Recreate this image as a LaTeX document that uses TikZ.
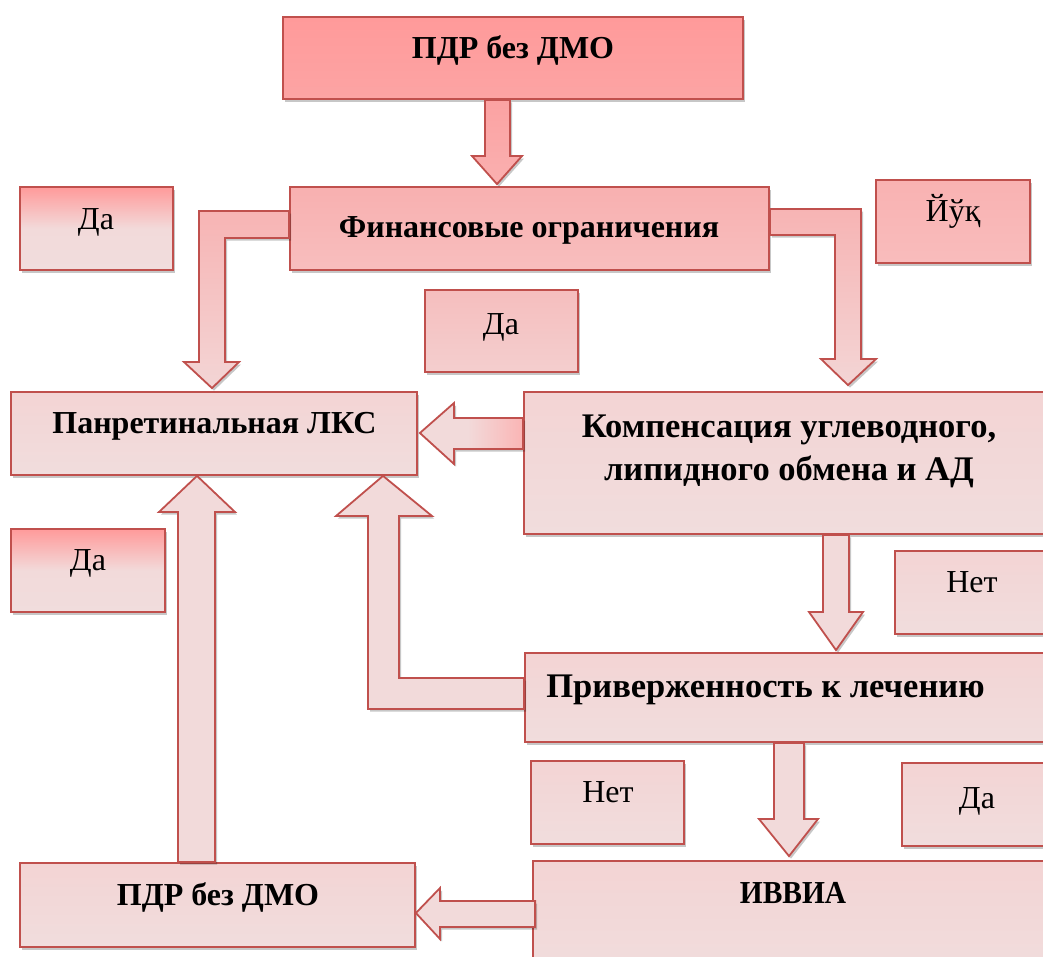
\documentclass[tikz,border=0pt]{standalone}
\usepackage{fontspec}
\setmainfont{Liberation Serif}
\usetikzlibrary{calc,shadows}
\definecolor{bord}{RGB}{192,80,77}
\definecolor{lt}{RGB}{242,218,218}
\definecolor{ltB}{RGB}{241,221,221}
\definecolor{ltT}{RGB}{243,212,212}
\definecolor{red1}{RGB}{255,154,154}
\definecolor{red2}{RGB}{252,164,164}
\definecolor{fin1}{RGB}{248,176,176}
\definecolor{fin2}{RGB}{248,190,190}
\definecolor{yuk1}{RGB}{249,178,178}
\definecolor{yuk2}{RGB}{249,188,188}
\definecolor{mid1}{RGB}{245,190,190}
\definecolor{mid2}{RGB}{244,206,206}
\definecolor{arA1}{RGB}{251,162,162}
\definecolor{arA2}{RGB}{250,176,176}
\definecolor{el1}{RGB}{247,180,180}
\definecolor{el2}{RGB}{243,213,213}
\definecolor{rdD}{RGB}{255,160,160}
\definecolor{rdE}{RGB}{250,175,175}
\pgfdeclarehorizontalshading{arrD}{100bp}{color(0bp)=(lt); color(48bp)=(lt); color(90bp)=(rdD); color(100bp)=(rdE)}
\tikzset{
  shd/.style={drop shadow={shadow xshift=2pt, shadow yshift=-2.5pt, fill=black, opacity=0.22}},
  box/.style={rectangle, draw=bord, line width=1.8pt, inner sep=0pt, shd},
  lbox/.style={box, top color=ltT, bottom color=ltB},
  blk/.style={draw=bord, line width=1.8pt, line join=miter, shd},
  bt/.style={font=\fontsize{32}{38}\selectfont\bfseries, anchor=base, inner sep=0pt},
  btl/.style={font=\fontsize{34.5}{40}\selectfont\bfseries, anchor=base, inner sep=0pt},
  rt/.style={font=\fontsize{32}{38}\selectfont, anchor=base, inner sep=0pt},
}
\begin{document}
\begin{tikzpicture}[x=1pt,y=-1pt]
\clip (0,0) rectangle (1043,956);
% boxes
\node[box, minimum width=460pt, minimum height=82pt, top color=red1, bottom color=red2] (top) at (513,58) {};
\node[box, minimum width=479pt, minimum height=83pt, top color=fin1, bottom color=fin2] (fin) at (529.5,228.5) {};
\node[box, minimum width=153pt, minimum height=83pt, top color=red1, bottom color=ltB, middle color=lt] (da1) at (96.5,228.5) {};
\node[box, minimum width=154pt, minimum height=83pt, top color=yuk1, bottom color=yuk2] (yuk) at (953,221.5) {};
\node[box, minimum width=153pt, minimum height=82pt, top color=mid1, bottom color=mid2] (da2) at (501.5,331) {};
\node[lbox, minimum width=406pt, minimum height=83pt] (pan) at (214,433.5) {};
\node[lbox, minimum width=531pt, minimum height=142pt] (komp) at (789.5,463) {};
\node[box, minimum width=154pt, minimum height=83pt, top color=red1, bottom color=ltB, middle color=lt] (da3) at (88,570.5) {};
\node[lbox, minimum width=155pt, minimum height=83pt] (net1) at (972.5,592.5) {};
\node[lbox, minimum width=530pt, minimum height=89pt] (priv) at (790,697.5) {};
\node[lbox, minimum width=153pt, minimum height=83pt] (net2) at (607.5,802.5) {};
\node[lbox, minimum width=153pt, minimum height=83pt] (da4) at (978.5,804.5) {};
\node[lbox, minimum width=395pt, minimum height=84pt] (pdr2) at (217.5,905) {};
\node[lbox, minimum width=520pt, minimum height=114pt] (ivvia) at (793,918) {};
% texts
\node[bt] (t-top) at (513,58) {ПДР без ДМО};
\node[bt] (t-fin) at (529,237) {Финансовые ограничения};
\node[rt] (t-da1) at (96,229) {Да};
\node[rt] (t-yuk) at (953,221) {Йўқ};
\node[rt] (t-da2) at (501,334) {Да};
\node[bt] (t-pan) at (214.5,433) {Панретинальная ЛКС};
\node[btl] (t-komp1) at (789,437) {Компенсация углеводного,};
\node[btl] (t-komp2) at (789,480) {липидного обмена и АД};
\node[rt] (t-da3) at (88,570) {Да};
\node[rt] (t-net1) at (972,592) {Нет};
\node[btl] (t-priv) at (765.5,697) {Приверженность к лечению};
\node[rt] (t-net2) at (608,802) {Нет};
\node[rt] (t-da4) at (977,808) {Да};
\node[bt] (t-pdr2) at (218,905) {ПДР без ДМО};
\node[bt] (t-ivvia) at (793,903) {\scalebox{0.92}[1]{ИВВИА}};
% block arrows
% A: top -> fin
\draw[blk, top color=arA1, bottom color=arA2]
  (top.south -| 485,0) -- (top.south -| 510,0) -- (510,156) -- (522,156)
  -- ($(fin.north -| 497,0)+(0,-2)$) -- (472,156) -- (485,156) -- cycle;
% B: fin -> pan (left elbow)
\draw[blk, top color=el1, bottom color=el2]
  (fin.west |- 0,211) -- (199,211) -- (199,362) -- (184,362)
  -- ($(pan.north -| 212,0)+(0,-3)$) -- (239,362) -- (225,362) -- (225,238)
  -- (fin.west |- 0,238) -- cycle;
% C: fin -> komp (right elbow)
\draw[blk, top color=el1, bottom color=el2]
  (fin.east |- 0,209) -- (861,209) -- (861,359) -- (876,359)
  -- ($(komp.north -| 848,0)+(0,-6)$) -- (821,359) -- (835,359) -- (835,235)
  -- (fin.east |- 0,235) -- cycle;
% D: komp -> pan
\draw[blk, shading=arrD]
  (komp.west |- 0,418) -- (454,418) -- (454,403)
  -- ($(pan.east |- 0,433)+(2,0)$) -- (454,464) -- (454,449)
  -- (komp.west |- 0,449) -- cycle;
% E: priv -> pan (up elbow)
\draw[blk, fill=lt]
  (priv.west |- 0,678) -- (399,678) -- (399,516) -- (432,516)
  -- (pan.south -| 383,0) -- (336,516) -- (368,516) -- (368,709)
  -- (priv.west |- 0,709) -- cycle;
% F: komp -> priv
\draw[blk, fill=lt]
  (komp.south -| 823,0) -- (komp.south -| 849,0) -- (849,612) -- (863,612)
  -- ($(priv.north -| 836,0)+(0,-2)$) -- (809,612) -- (823,612) -- cycle;
% G: pdr2 -> pan (big up)
\draw[blk, fill=lt]
  (pdr2.north -| 178,0) -- (178,512) -- (159,512)
  -- (pan.south -| 197,0) -- (235,512) -- (215,512)
  -- (pdr2.north -| 215,0) -- cycle;
% H: priv -> ivvia
\draw[blk, fill=lt]
  (priv.south -| 774,0) -- (priv.south -| 804,0) -- (804,819) -- (818,819)
  -- ($(ivvia.north -| 789,0)+(0,-4)$) -- (759,819) -- (774,819) -- cycle;
% I: ivvia -> pdr2
\draw[blk, fill=lt]
  ($(ivvia.west |- 0,901)+(3,0)$) -- (440,901) -- (440,888)
  -- (pdr2.east |- 0,913) -- (440,939) -- (440,927)
  -- ($(ivvia.west |- 0,927)+(3,0)$) -- cycle;
\end{tikzpicture}
\end{document}
